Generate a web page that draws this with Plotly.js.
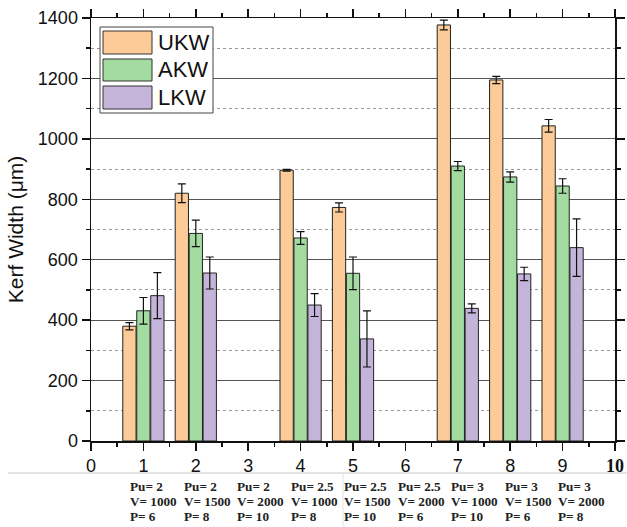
<!DOCTYPE html>
<html>
<head>
<meta charset="utf-8">
<script src="https://cdn.plot.ly/plotly-3.0.1.min.js"></script>
<style>html,body{margin:0;padding:0;background:#fff;}#chart{width:627px;height:527px;}</style>
</head>
<body>
<div id="chart"></div>
<script>
const categories = [1, 2, 3, 4, 5, 6, 7, 8, 9];
const seriesNames = ['UKW', 'AKW', 'LKW'];
const ukw    = [380, 820, null, 896, 773, null, 1377, 1195, 1043];
const ukwErr = [12, 31, null, 3, 15, null, 16, 12, 21];
const akw    = [431, 687, null, 672, 555, null, 910, 874, 844];
const akwErr = [44, 44, null, 21, 54, null, 15, 17, 24];
const lkw    = [481, 556, null, 450, 338, null, 439, 553, 640];
const lkwErr = [76, 53, null, 38, 93, null, 15, 22, 95];
const xTickVals = [0, 1, 2, 3, 4, 5, 6, 7, 8, 9, 10];
const xTickText = ['0', '1', '2', '3', '4', '5', '6', '7', '8', '9',
  '<span style="font-family:\'Liberation Serif\'"><b>10</b></span>'];
const puLabels = ['2', '2', '2', '2.5', '2.5', '2.5', '3', '3', '3'];
const vLabels  = ['1000', '1500', '2000', '1000', '1500', '2000', '1000', '1500', '2000'];
const pLabels  = ['6', '8', '10', '8', '10', '6', '10', '6', '8'];

const colors = ['#FDCB98', '#A3DBA0', '#C4B4DA'];
const W = 627, H = 527;
const M = {l: 91, r: 12, t: 18, b: 86};
const pw = W - M.l - M.r, ph = H - M.t - M.b;
const px = x => (x - M.l) / pw;
const py = y => (H - M.b - y) / ph;

const values = [ukw, akw, lkw];
const errs = [ukwErr, akwErr, lkwErr];
const traces = values.map((v, i) => ({
  type: 'bar', name: seriesNames[i], x: categories, y: v,
  marker: {color: colors[i], line: {color: '#222', width: 1}},
  error_y: {type: 'data', array: errs[i], visible: true, color: '#111', thickness: 1.2, width: 4},
  showlegend: false
}));

const shapes = [];
const annotations = [];
// custom legend
shapes.push({type: 'rect', xref: 'paper', yref: 'paper', layer: 'above',
  x0: px(100), x1: px(213), y0: py(113), y1: py(27),
  fillcolor: '#fff', line: {color: '#444', width: 1}});
const rowsY = [[31, 54], [59, 81], [86, 109]];
seriesNames.forEach((n, i) => {
  shapes.push({type: 'rect', xref: 'paper', yref: 'paper', layer: 'above',
    x0: px(103), x1: px(152), y0: py(rowsY[i][1]), y1: py(rowsY[i][0]),
    fillcolor: colors[i], line: {color: '#333', width: 1}});
  annotations.push({xref: 'paper', yref: 'paper', x: px(156), y: py((rowsY[i][0] + rowsY[i][1]) / 2),
    xanchor: 'left', yanchor: 'middle', showarrow: false, text: n,
    font: {family: 'Liberation Sans, Arial', size: 22, color: '#111'}});
});
// separator lines under axis (from pasted table)
shapes.push({type: 'line', xref: 'paper', yref: 'paper', x0: px(8), x1: px(627), y0: py(473), y1: py(473),
  line: {color: '#e4e4e4', width: 2}});
shapes.push({type: 'line', xref: 'paper', yref: 'paper', x0: px(343), x1: px(343), y0: py(474), y1: py(527),
  line: {color: '#ececec', width: 1.5}});
// parameter table
const rowPy = [486.7, 501.5, 516.7];
categories.forEach((c, k) => {
  const lines = ['Pu= ' + puLabels[k], 'V= ' + vLabels[k], 'P= ' + pLabels[k]];
  lines.forEach((t, r) => {
    annotations.push({xref: 'paper', yref: 'paper', x: px(128 + k * 53.5), y: py(rowPy[r]),
      xanchor: 'left', yanchor: 'middle', showarrow: false, text: '<b>' + t + '</b>',
      font: {family: 'Liberation Serif, Times New Roman', size: 13.2, color: '#222'}});
  });
});

const layout = {
  width: W, height: H, margin: M,
  paper_bgcolor: '#fff', plot_bgcolor: '#fff',
  barmode: 'group', bargap: 0.2, bargroupgap: 0.05,
  font: {family: 'Liberation Sans, Arial', color: '#111'},
  xaxis: {
    range: [0, 10], tickvals: xTickVals, ticktext: xTickText,
    ticks: 'outside', ticklen: 8, tickwidth: 1.5, tickcolor: '#111',
    showline: true, linewidth: 1.5, linecolor: '#111', mirror: 'ticks',
    showgrid: false, zeroline: false,
    tickfont: {size: 18, color: '#111'},
    minor: {dtick: 0.5, tick0: 0, ticks: 'outside', ticklen: 4, tickwidth: 1.5, tickcolor: '#111', showgrid: false}
  },
  yaxis: {
    range: [0, 1400], dtick: 200, tick0: 0,
    ticks: 'outside', ticklen: 8, tickwidth: 1.5, tickcolor: '#111',
    showline: true, linewidth: 1.5, linecolor: '#111', mirror: 'ticks',
    showgrid: true, gridcolor: '#555', gridwidth: 1, zeroline: false,
    tickfont: {size: 18, color: '#111'},
    title: {text: 'Kerf Width (μm)', font: {size: 21, color: '#111'}, standoff: 8},
    minor: {dtick: 100, tick0: 0, ticks: 'outside', ticklen: 4, tickwidth: 1.5, tickcolor: '#111',
      showgrid: true, gridcolor: '#999', griddash: 'dot', gridwidth: 1}
  },
  shapes: shapes,
  annotations: annotations
};
Plotly.newPlot('chart', traces, layout, {displayModeBar: false, staticPlot: true});
</script>
</body>
</html>
